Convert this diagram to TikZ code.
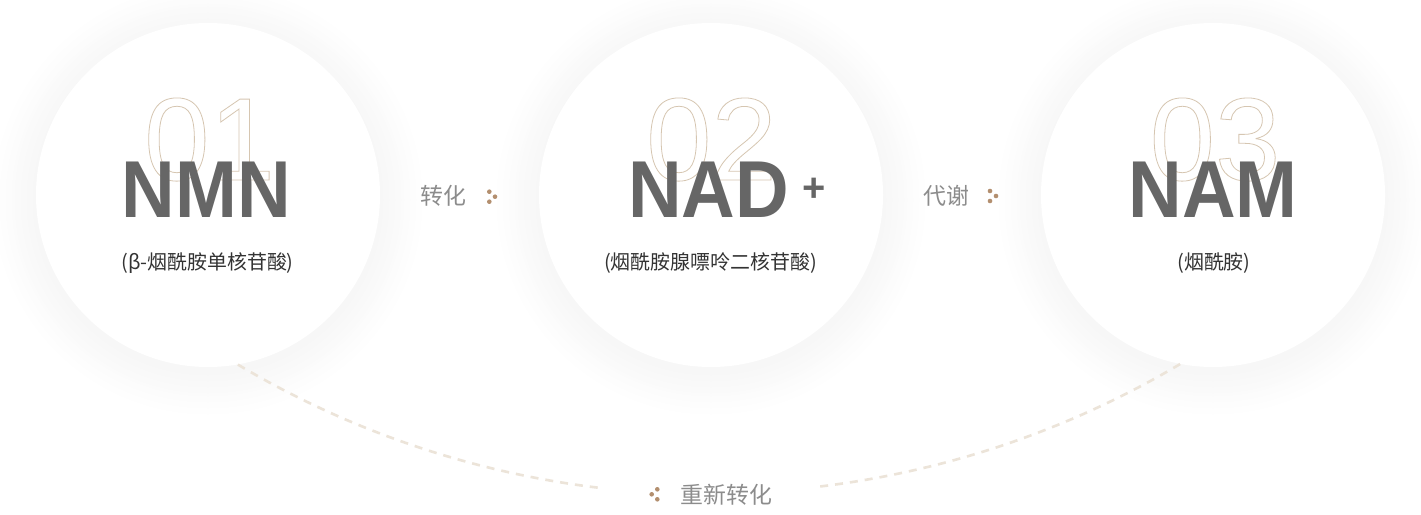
\documentclass[tikz,border=0pt]{standalone}
\usepackage{fontspec}
\setmainfont{Liberation Sans}
\newfontfamily\cjk{Noto Sans CJK SC}
\usetikzlibrary{calc}

\definecolor{namegray}{HTML}{666666}
\definecolor{numtan}{HTML}{D6C6B1}
\definecolor{subgray}{HTML}{333333}
\definecolor{stepgray}{HTML}{8C8C8C}
\definecolor{dotbrown}{HTML}{B38F6F}
\definecolor{dashtan}{HTML}{ECE4D9}
% hollow digits
\newcommand\hollow[1]{\special{pdf:literal direct 1 Tr 0.8 w}#1\special{pdf:literal direct 0 Tr}}

\begin{document}
\begin{tikzpicture}[x=1bp,y=1bp,
	bubble/.style={circle,fill=white,minimum size=344bp,inner sep=0pt},
	bigname/.style={font=\fontsize{81}{81}\selectfont\bfseries,text=namegray,xscale=0.92,anchor=base,inner sep=0pt},
	bignum/.style={font=\fontsize{118}{118}\selectfont,text=numtan,anchor=base,inner sep=0pt},
	subname/.style={font=\cjk\fontsize{20}{20}\selectfont,text=subgray,anchor=base,inner sep=0pt},
	steplabel/.style={font=\cjk\fontsize{23}{23}\selectfont,text=stepgray,anchor=base,inner sep=0pt},
	backflow/.style={dashtan,line width=2.6bp,dash pattern=on 8bp off 7bp}]
		% page
		\fill[white] (0,0) rectangle (1421,-515);
		\useasboundingbox (0,0) rectangle (1421,-515);
		% soft shadows, outer ring first
		\foreach \cx in {208,711,1213}
			\foreach \i in {14,...,1}
				\fill[black!\fpeval{0.22*(15-\i)}] (\cx,-200) circle[radius=172+3*\i];
		% circles
		\node[bubble] (nmn) at (208,-195) {};
		\node[bubble] (nad) at (711,-195) {};
		\node[bubble] (nam) at (1213,-195) {};
		% outlined numbers
		\node[bignum] (num1) at (209.5,-180) {\hollow{01}};
		\node[bignum] (num2) at (711.5,-180) {\hollow{02}};
		\node[bignum] (num3) at (1215,-180) {\hollow{03}};
		% names
		\node[bigname] (nmnname) at (206.5,-218) {NMN};
		\node[bigname] (nadname) at (708.7,-218) {NAD};
		\node[bigname] (namname) at (1213,-218) {NAM};
		\node[font=\fontsize{40}{40}\selectfont\bfseries,text=namegray,anchor=base,inner sep=0pt] (plus) at (814,-202) {+};
		% sub names
		\node[subname] (nmnsub) at (207.5,-269.5) {(β-烟酰胺单核苷酸)};
		\node[subname] (nadsub) at (710.5,-269.5) {(烟酰胺腺嘌呤二核苷酸)};
		\node[subname] (namsub) at (1214,-269.5) {(烟酰胺)};
		% steps
		\node[steplabel] (conv) at (443.5,-204.7) {转化};
		\node[steplabel] (meta) at (946.5,-204.7) {代谢};
		\node[steplabel] (back) at (726.5,-503.7) {重新转化};
		% dots
		\foreach \x/\y in {489.3/191.7,495/196.7,489.3/201.7,990/191,996/196,990/201,651.7/494.3,657.3/489.3,657.3/499.3}
			\fill[dotbrown] (\x,-\y) circle[radius=2.3];
		% back conversion
		\draw[backflow] (nmn.-80) arc[start angle=-120.78,end angle=-96.66,radius=922.4];
		\draw[backflow] (nam.-101) arc[start angle=-59.3,end angle=-83.34,radius=920.9];
\end{tikzpicture}
\end{document}
